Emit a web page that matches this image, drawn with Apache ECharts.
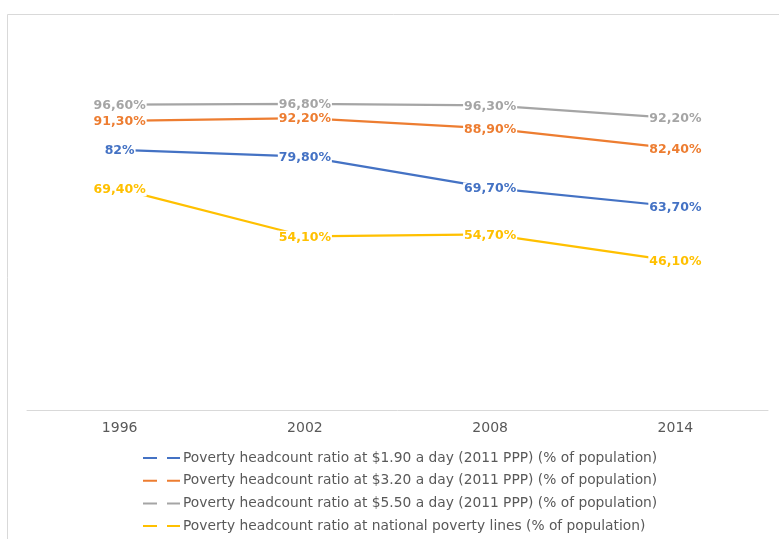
<!DOCTYPE html>
<html>
<head>
<meta charset="utf-8">
<script src="https://cdn.jsdelivr.net/npm/echarts@6/dist/echarts.min.js"></script>
<style>
  html, body { margin: 0; padding: 0; background: #fff; }
  #chart { width: 779px; height: 539px; }
</style>
</head>
<body>
<div id="chart"></div>
<script>
// Survey years
const years = ['1996', '2002', '2008', '2014'];

// Poverty headcount ratios (% of population)
const pov190 = [82.0, 79.8, 69.7, 63.7];
const pov320 = [91.3, 92.2, 88.9, 82.4];
const pov550 = [96.6, 96.8, 96.3, 92.2];
const povNational = [69.4, 54.1, 54.7, 46.1];

const seriesNames = [
  'Poverty headcount ratio at $1.90 a day (2011 PPP) (% of population)',
  'Poverty headcount ratio at $3.20 a day (2011 PPP) (% of population)',
  'Poverty headcount ratio at $5.50 a day (2011 PPP) (% of population)',
  'Poverty headcount ratio at national poverty lines (% of population)'
];
const seriesColors = ['#4472C4', '#ED7D31', '#A5A5A5', '#FFC000'];
const seriesData = [pov190, pov320, pov550, povNational];

// Percent with decimal comma; whole numbers without decimals
function pct(v) {
  if (Number.isInteger(v)) return v + '%';
  return v.toFixed(2).replace('.', ',') + '%';
}

const chart = echarts.init(document.getElementById('chart'), null, { renderer: 'canvas' });

const series = seriesData.map((d, i) => ({
  name: seriesNames[i],
  type: 'line',
  data: d,
  symbol: 'circle',
  symbolSize: 1,
  showSymbol: true,
  itemStyle: { color: seriesColors[i] },
  lineStyle: { color: seriesColors[i], width: 2.2 },
  label: {
    show: true,
    position: 'inside',
    offset: [0, 1],
    formatter: p => pct(p.value),
    color: seriesColors[i],
    fontFamily: 'DejaVu Sans',
    fontWeight: 'bold',
    fontSize: 12.5,
    backgroundColor: '#fff',
    padding: [0, 1]
  },
  emphasis: { disabled: true },
  animation: false
}));

chart.setOption({
  backgroundColor: '#fff',
  animation: false,
  graphic: [{
    type: 'rect',
    shape: { x: 7.5, y: 14.5, width: 900, height: 700 },
    style: { fill: 'none', stroke: '#d9d9d9', lineWidth: 1 },
    silent: true,
    z: -10
  }],
  grid: { left: 27, right: 11, top: 32, bottom: 135 },
  xAxis: {
    type: 'category',
    data: years,
    boundaryGap: true,
    offset: 6,
    axisLine: { show: true, onZero: false, lineStyle: { color: '#d9d9d9', width: 1 } },
    axisTick: { show: false },
    axisLabel: {
      color: '#595959',
      fontFamily: 'DejaVu Sans',
      fontSize: 14,
      margin: 11
    },
    splitLine: { show: false }
  },
  yAxis: {
    type: 'value',
    min: 0,
    max: 120,
    show: false,
    splitLine: { show: false }
  },
  legend: {
    orient: 'vertical',
    left: 143,
    top: 450,
    height: 120,
    padding: 0,
    itemWidth: 37,
    itemHeight: 2,
    itemGap: 6.7,
    icon: 'path://M0,0H14V2H0Z M24,0H37V2H24Z',
    textStyle: {
      color: '#595959',
      fontFamily: 'DejaVu Sans',
      fontSize: 13.8,
      lineHeight: 16,
      padding: [0, 0, 0, -2]
    },
    selectedMode: false,
    data: seriesNames
  },
  series: series
});
</script>
</body>
</html>
